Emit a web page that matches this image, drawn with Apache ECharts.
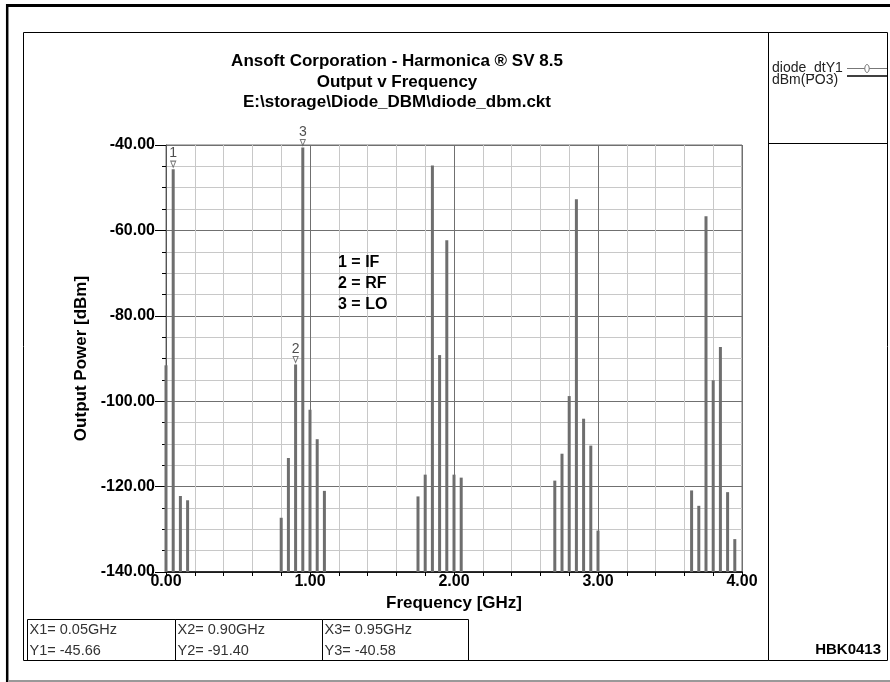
<!DOCTYPE html>
<html>
<head>
<meta charset="utf-8">
<script src="https://cdn.jsdelivr.net/npm/echarts@6/dist/echarts.min.js"></script>
<style>
html,body{margin:0;padding:0;background:#fff;}
#chart{width:890px;height:682px;}
</style>
</head>
<body>
<div id="chart"></div>
<script>
// ---- data ----
const titleLines = ['Ansoft Corporation - Harmonica \u00ae SV 8.5', 'Output v Frequency', 'E:\\storage\\Diode_DBM\\diode_dbm.ckt'];
const xAxisName = 'Frequency [GHz]';
const yAxisName = 'Output Power [dBm]';
const freqGHz = [
  0.00, 0.05, 0.10, 0.15,
  0.80, 0.85, 0.90, 0.95, 1.00, 1.05, 1.10,
  1.75, 1.80, 1.85, 1.90, 1.95, 2.00, 2.05,
  2.70, 2.75, 2.80, 2.85, 2.90, 2.95, 3.00,
  3.65, 3.70, 3.75, 3.80, 3.85, 3.90, 3.95
];
const powerDbm = [
  -91.6, -45.66, -122.2, -123.2,
  -127.3, -113.3, -91.40, -40.58, -102.0, -108.9, -121.0,
  -122.3, -117.2, -44.8, -89.2, -62.3, -117.2, -117.9,
  -118.6, -112.3, -98.8, -52.7, -104.1, -110.4, -130.3,
  -120.9, -124.5, -56.7, -95.1, -87.3, -121.3, -132.3
];
const markerLabels = ['1', '2', '3'];
const markerFreq = [0.05, 0.90, 0.95];
const markerVal = [-45.66, -91.40, -40.58];
const noteLines = ['1 = IF', '2 = RF', '3 = LO'];
const tableXLines = ['X1= 0.05GHz', 'X2= 0.90GHz', 'X3= 0.95GHz'];
const tableYLines = ['Y1= -45.66', 'Y2= -91.40', 'Y3= -40.58'];
const legendLines = ['diode_dtY1', 'dBm(PO3)'];
const footerId = 'HBK0413';
const xMin = 0, xMax = 4, xMajor = 1, xMinor = 0.2;
const yMin = -140, yMax = -40, yMajor = 20, yMinor = 5;

// ---- chart ----
const FONT = '"Liberation Sans", Arial, sans-serif';
const chart = echarts.init(document.getElementById('chart'), null, {renderer: 'canvas'});

const barData = freqGHz.map((f, i) => [f, powerDbm[i]]);
const markerData = markerFreq.map((f, i) => ({value: [f, markerVal[i]], name: markerLabels[i]}));

const graphics = [];
const add = (el) => { el.silent = true; el.z = 100; graphics.push(el); };
// outer frame
add({type: 'line', shape: {x1: 6, y1: 5.5, x2: 890, y2: 5.5}, style: {stroke: '#000', lineWidth: 3}});
add({type: 'line', shape: {x1: 7.2, y1: 4, x2: 7.2, y2: 682}, style: {stroke: '#000', lineWidth: 2.5}});
add({type: 'line', shape: {x1: 8, y1: 681, x2: 890, y2: 681}, style: {stroke: '#999', lineWidth: 2}});
// inner frames
add({type: 'rect', shape: {x: 23.5, y: 32.5, width: 745, height: 628}, style: {fill: null, stroke: '#000', lineWidth: 1}});
add({type: 'rect', shape: {x: 768.5, y: 32.5, width: 119, height: 628}, style: {fill: null, stroke: '#000', lineWidth: 1}});
add({type: 'line', shape: {x1: 768.5, y1: 143.5, x2: 887.5, y2: 143.5}, style: {stroke: '#000', lineWidth: 1}});
// legend panel
legendLines.forEach((t, i) => {
  add({type: 'text', x: 772, y: 68 + i * 12.5, style: {text: t, font: '14px ' + FONT, fill: '#222', textVerticalAlign: 'middle'}});
});
add({type: 'line', shape: {x1: 847, y1: 68.5, x2: 887, y2: 68.5}, style: {stroke: '#777', lineWidth: 1}});
add({type: 'ellipse', shape: {cx: 867, cy: 68.5, rx: 2.2, ry: 4}, style: {fill: '#fff', stroke: '#777', lineWidth: 1}});
add({type: 'line', shape: {x1: 847, y1: 76, x2: 887, y2: 76}, style: {stroke: '#000', lineWidth: 1.5}});
add({type: 'text', x: 881, y: 650, style: {text: footerId, font: 'bold 15px ' + FONT, fill: '#000', textAlign: 'right', textVerticalAlign: 'middle'}});
// marker table
const colX = [27.5, 175.5, 322.5, 468.5];
for (let c = 0; c < 3; c++) {
  add({type: 'rect', shape: {x: colX[c], y: 619.5, width: colX[c + 1] - colX[c], height: 41}, style: {fill: null, stroke: '#000', lineWidth: 1}});
  add({type: 'text', x: colX[c] + 2, y: 630, style: {text: tableXLines[c], font: '14.5px ' + FONT, fill: '#333', textVerticalAlign: 'middle'}});
  add({type: 'text', x: colX[c] + 2, y: 651, style: {text: tableYLines[c], font: '14.5px ' + FONT, fill: '#333', textVerticalAlign: 'middle'}});
}
// notes
noteLines.forEach((t, i) => {
  add({type: 'text', x: 338, y: 263 + i * 20.7, style: {text: t, font: 'bold 16px ' + FONT, fill: '#000', textVerticalAlign: 'middle'}});
});
// title
titleLines.forEach((t, i) => {
  add({type: 'text', x: 397, y: 61.5 + i * 20.5, style: {text: t, font: 'bold 17px ' + FONT, fill: '#000', textAlign: 'center', textVerticalAlign: 'middle'}});
});

const option = {
  animation: false,
  backgroundColor: '#fff',
  grid: {left: 166, right: 148, top: 145, bottom: 110, show: true, borderColor: '#707070', borderWidth: 1, backgroundColor: 'transparent'},
  xAxis: [
    { // minor grid + ticks
      type: 'value', min: xMin, max: xMax, interval: xMinor, position: 'bottom',
      axisLine: {show: false},
      axisTick: {show: true, length: 4, lineStyle: {color: '#000'}},
      axisLabel: {show: false},
      splitLine: {show: true, lineStyle: {color: '#c8c8c8', width: 1}}
    },
    { // major grid + labels
      type: 'value', min: xMin, max: xMax, interval: xMajor, position: 'bottom',
      axisLine: {show: true, onZero: false, lineStyle: {color: '#000', width: 1.5}},
      axisTick: {show: false},
      axisLabel: {show: true, margin: 2, color: '#000', fontFamily: FONT, fontWeight: 'bold', fontSize: 16, formatter: v => v.toFixed(2)},
      splitLine: {show: true, lineStyle: {color: '#707070', width: 1}},
      name: xAxisName, nameLocation: 'middle', nameGap: 20,
      nameTextStyle: {color: '#000', fontFamily: FONT, fontWeight: 'bold', fontSize: 17}
    }
  ],
  yAxis: [
    {
      type: 'value', min: yMin, max: yMax, interval: yMinor, position: 'left',
      axisLine: {show: false},
      axisTick: {show: true, length: 4, lineStyle: {color: '#000'}},
      axisLabel: {show: false},
      splitLine: {show: true, lineStyle: {color: '#c8c8c8', width: 1}}
    },
    {
      type: 'value', min: yMin, max: yMax, interval: yMajor, position: 'left',
      axisLine: {show: true, onZero: false, lineStyle: {color: '#555', width: 1}},
      axisTick: {show: true, length: 11, lineStyle: {color: '#000'}},
      axisLabel: {show: true, margin: 11, color: '#000', fontFamily: FONT, fontWeight: 'bold', fontSize: 16,
        verticalAlign: 'middle', lineHeight: 16, padding: [0, 0, 8, 0], formatter: v => v.toFixed(2)},
      splitLine: {show: true, lineStyle: {color: '#707070', width: 1}},
      name: yAxisName, nameLocation: 'middle', nameGap: 73,
      nameTextStyle: {color: '#000', fontFamily: FONT, fontWeight: 'bold', fontSize: 17}
    }
  ],
  series: [
    {
      type: 'custom', xAxisIndex: 0, yAxisIndex: 0, data: barData, z: 3,
      renderItem: function (params, api) {
        const top = api.coord([api.value(0), api.value(1)]);
        const base = api.coord([api.value(0), yMin]);
        return {type: 'rect', shape: {x: top[0] - 1.5, y: top[1], width: 3, height: base[1] - top[1]}, style: {fill: '#6e6e6e'}};
      }
    },
    {
      type: 'scatter', xAxisIndex: 0, yAxisIndex: 0, data: markerData, z: 4, clip: false,
      symbol: 'triangle', symbolRotate: 180, symbolSize: [5, 6], symbolOffset: [0, -5],
      itemStyle: {color: '#fff', borderColor: '#555', borderWidth: 1},
      label: {show: true, position: 'top', distance: 0, formatter: p => p.name, color: '#222', fontFamily: FONT, fontSize: 14}
    }
  ],
  graphic: graphics
};
chart.setOption(option);
</script>
</body>
</html>
